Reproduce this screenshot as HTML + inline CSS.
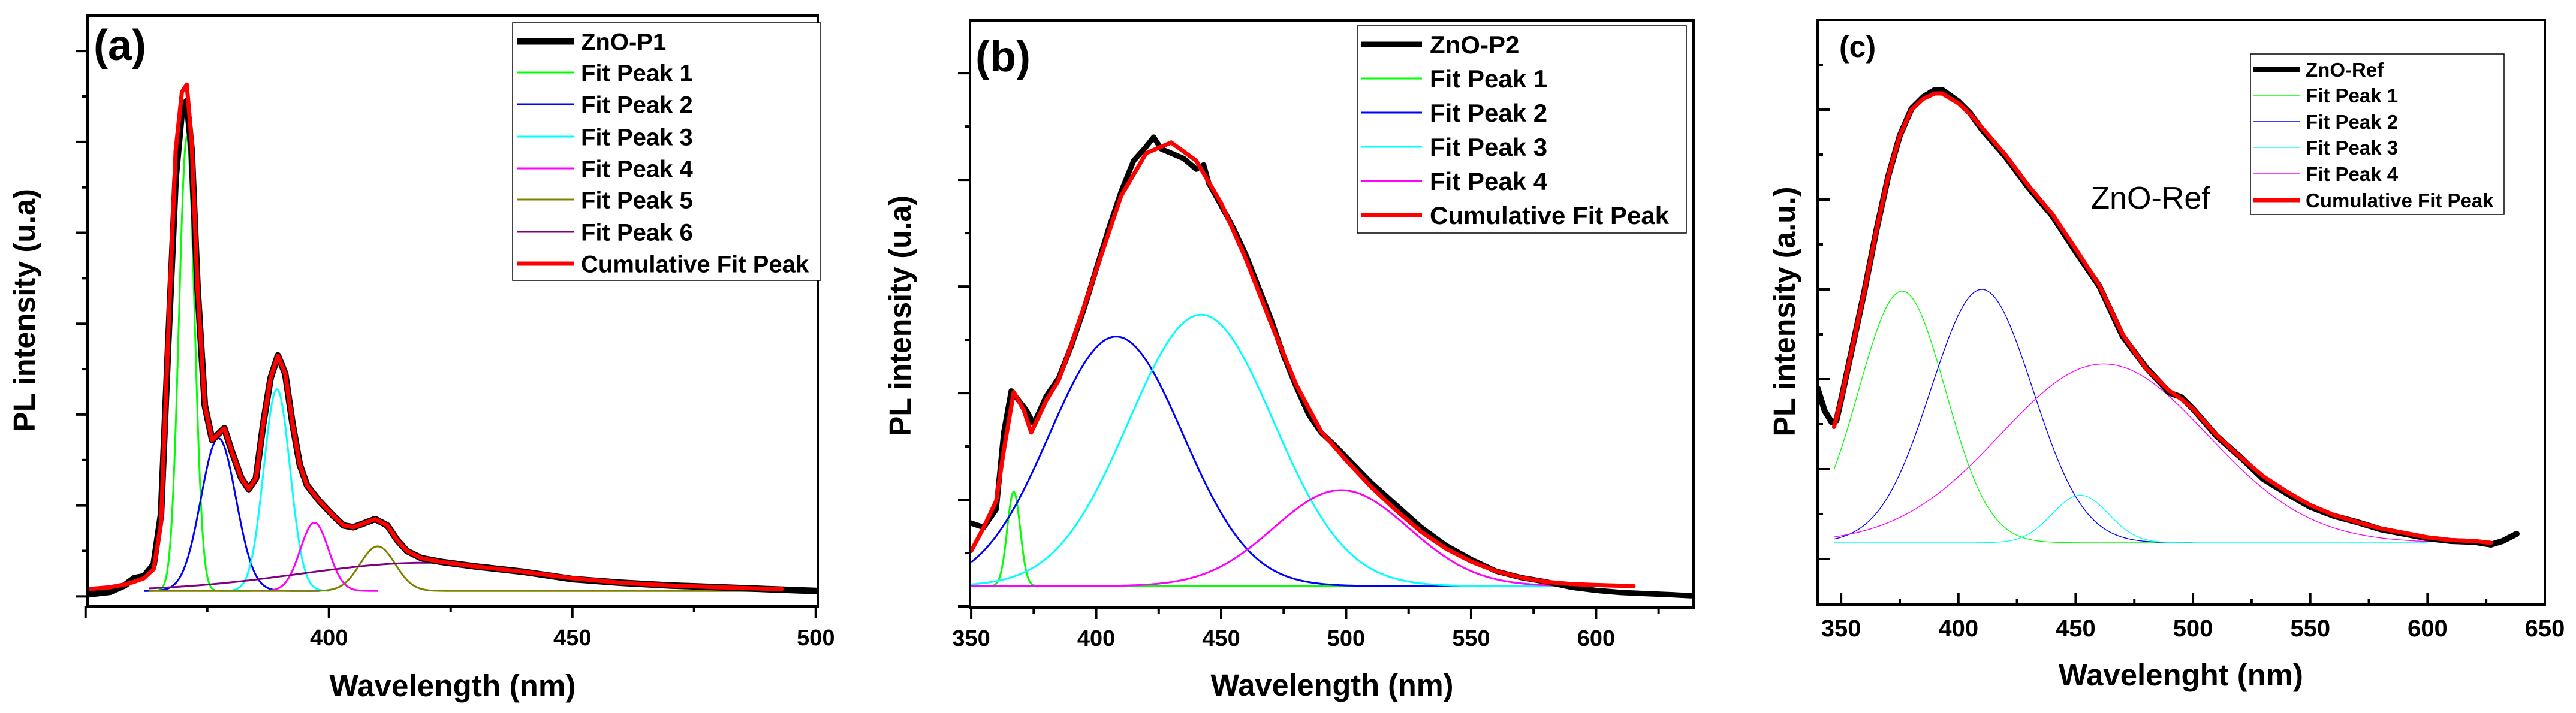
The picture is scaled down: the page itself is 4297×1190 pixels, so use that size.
<!DOCTYPE html>
<html><head><meta charset="utf-8"><style>
html,body{margin:0;padding:0;background:#fff;}
svg{display:block;font-family:"Liberation Sans",Arial,sans-serif;}
</style></head><body>
<svg id="fig" xmlns="http://www.w3.org/2000/svg" width="4297" height="1190" viewBox="0 0 4297 1190"></svg>
<script>
// ---------- Panel (a) data ----------
const aWl   = [350,355,358,360,362,364,365.5,367,368.5,369.8,370.8,371.8,373,374.5,376,377.5,378.5,380,382,383.5,385,386.5,388,389.5,391,392.5,394,395.5,398,401,403,405,407,409.5,412,414,416,419,423,430,440,450,460,470,480,490,500];
const aData = [0.02,0.05,0.12,0.2,0.22,0.35,0.9,2.8,4.6,5.35,5.45,4.9,3.4,2.1,1.72,1.8,1.85,1.6,1.3,1.18,1.3,1.9,2.4,2.65,2.45,1.9,1.45,1.22,1.05,0.88,0.78,0.76,0.8,0.85,0.78,0.62,0.5,0.42,0.38,0.33,0.27,0.19,0.15,0.12,0.1,0.08,0.06];
const aCumWl = [350.4,355,358,360,362,364,365.5,367,368.5,369.8,370.8,371.8,373,374.5,376,377.5,378.5,380,382,383.5,385,386.5,388,389.5,391,392.5,394,395.5,398,401,403,405,407,409.5,412,414,416,419,423,430,440,450,460,470,480,493];
const aCum  = [0.08,0.1,0.13,0.16,0.2,0.3,0.8,2.9,4.9,5.55,5.63,5.0,3.4,2.1,1.72,1.8,1.85,1.6,1.3,1.18,1.3,1.9,2.4,2.65,2.45,1.9,1.45,1.22,1.05,0.88,0.78,0.76,0.8,0.85,0.78,0.62,0.5,0.42,0.38,0.33,0.27,0.2,0.15,0.12,0.1,0.08];
const aPeakCenter = [370.8,377.3,389.3,397,410,420];
const aPeakHeight = [5.0,1.68,2.22,0.75,0.49,0.31];
const aPeakSigma  = [1.6,3.6,2.7,2.9,3.6,26];
const aPeakFrom   = [362,362,380,386,363,363];
const aPeakTo     = [384,398,400,410,500,425];
const aBase = 0.06;
const aXTicks = [400,450,500];
const aXTickLabels = ["400","450","500"];
const aLegend = ["ZnO-P1","Fit Peak 1","Fit Peak 2","Fit Peak 3","Fit Peak 4","Fit Peak 5","Fit Peak 6","Cumulative Fit Peak"];

// ---------- Panel (b) data ----------
const bWl   = [350,355,360,363,366,369,372,375,380,385,390,395,400,405,410,415,420,423,426,430,435,440,443,445,450,455,460,465,470,475,480,485,490,495,500,510,520,530,540,550,560,570,580,590,600,610,620,630,638];
const bData = [0.78,0.74,0.91,1.63,2.02,1.93,1.84,1.71,1.97,2.14,2.44,2.78,3.16,3.54,3.89,4.18,4.31,4.40,4.29,4.25,4.2,4.1,4.14,3.97,3.76,3.54,3.29,2.99,2.69,2.35,2.06,1.8,1.63,1.52,1.4,1.16,0.95,0.74,0.57,0.44,0.33,0.27,0.23,0.18,0.15,0.13,0.12,0.11,0.1];
const bCumWl = [350,355,360,363,367,371,374,380,385,390,400,410,420,430,440,450,460,470,480,490,500,510,520,530,540,550,560,570,580,590,600,615];
const bCum  = [0.52,0.74,0.99,1.46,2.01,1.84,1.63,1.93,2.12,2.45,3.15,3.85,4.25,4.35,4.18,3.78,3.25,2.65,2.08,1.64,1.37,1.12,0.9,0.7,0.54,0.42,0.33,0.27,0.23,0.21,0.2,0.19];
const bPeakCenter = [367,408,442,498];
const bPeakHeight = [0.885,2.34,2.545,0.9];
const bPeakSigma  = [2.6,26.8,29,27];
const bPeakFrom   = [350,350,350,350];
const bPeakTo     = [615,615,615,615];
const bBase = 0.19;
const bXTicks = [350,400,450,500,550,600];
const bXTickLabels = ["350","400","450","500","550","600"];
const bLegend = ["ZnO-P2","Fit Peak 1","Fit Peak 2","Fit Peak 3","Fit Peak 4","Cumulative Fit Peak"];

// ---------- Panel (c) data ----------
const cWl   = [340,343,346,348,350,355,360,365,370,375,380,385,390,393,400,405,410,420,430,440,450,460,470,480,490,495,500,510,520,530,540,550,560,570,580,590,600,610,620,627,632,638];
const cData = [1.9,1.65,1.52,1.54,1.77,2.38,2.99,3.65,4.25,4.71,5.01,5.14,5.22,5.22,5.09,4.96,4.78,4.48,4.13,3.82,3.42,3.04,2.48,2.13,1.85,1.8,1.67,1.37,1.14,0.89,0.73,0.58,0.48,0.41,0.33,0.28,0.23,0.2,0.19,0.16,0.2,0.28];
const cCumWl = [347,350,355,360,365,370,375,380,385,390,393,400,405,410,420,430,440,450,460,470,480,490,495,500,510,520,530,540,550,560,570,580,590,600,610,620,627];
const cCum  = [1.47,1.77,2.38,2.99,3.65,4.25,4.71,5.0,5.12,5.18,5.18,5.07,4.95,4.8,4.5,4.15,3.84,3.45,3.05,2.5,2.12,1.87,1.78,1.67,1.38,1.14,0.92,0.75,0.6,0.49,0.41,0.34,0.29,0.24,0.21,0.2,0.18];
const cPeakCenter = [376,410,452,462];
const cPeakHeight = [2.8,2.82,0.53,1.99];
const cPeakSigma  = [18.5,21.7,12,44];
const cPeakFrom   = [347,347,347,347];
const cPeakTo     = [500,500,600,627];
const cBase = 0.18;
const cXTicks = [350,400,450,500,550,600,650];
const cXTickLabels = ["350","400","450","500","550","600","650"];
const cLegend = ["ZnO-Ref","Fit Peak 1","Fit Peak 2","Fit Peak 3","Fit Peak 4","Cumulative Fit Peak"];

const NS = "http://www.w3.org/2000/svg";
const svg = document.getElementById('fig');
function mk(tag, attrs, parent){
  const e = document.createElementNS(NS, tag);
  for (const k in attrs) e.setAttribute(k, attrs[k]);
  (parent||svg).appendChild(e);
  return e;
}
function gauss(x,c,h,s){ return h*Math.exp(-0.5*((x-c)/s)*((x-c)/s)); }

function panel(P){
  const g = mk('g',{});
  
  
  const sx = w => P.x0 + (w - P.xmin)/(P.xmax - P.xmin)*(P.x1 - P.x0);
  const sy = v => P.y1 - (v - P.vmin)/(P.vmax - P.vmin)*(P.y1 - P.y0);
  const clipId = P.name + '-clip';
  const cp = mk('clipPath',{id:clipId}, g);
  mk('rect',{x:P.x0,y:P.y0,width:P.x1-P.x0,height:P.y1-P.y0}, cp);
  const plot = mk('g',{'clip-path':'url(#'+clipId+')'}, g);

  // fit peaks
  for (let i=0;i<P.pc.length;i++){
    let d='';
    for (let w=P.pf[i]; w<=P.pt[i]+1e-9; w+=0.25){
      d += (d?'L':'M') + sx(w).toFixed(1) + ',' + sy(P.base + gauss(w,P.pc[i],P.ph[i],P.ps[i])).toFixed(1);
    }
    const p = mk('path',{d:d,fill:'none',stroke:P.colors[i],'stroke-width':P.fitW,'stroke-linejoin':'round'}, plot);
    
    
  }
  // data
  let d='';
  P.wl.forEach((w,i)=>{ d += (i?'L':'M') + sx(w).toFixed(1)+','+sy(P.data[i]).toFixed(1); });
  const dp = mk('path',{d:d,fill:'none',stroke:'#000','stroke-width':P.dataW,'stroke-linejoin':'round','stroke-linecap':'round'}, plot);
  
  
  d='';
  P.cwl.forEach((w,i)=>{ d += (i?'L':'M') + sx(w).toFixed(1)+','+sy(P.cum[i]).toFixed(1); });
  const cpth = mk('path',{d:d,fill:'none',stroke:'#ff0000','stroke-width':P.cumW,'stroke-linejoin':'round','stroke-linecap':'round'}, plot);
  
  

  // frame
  const fr = mk('rect',{x:P.x0,y:P.y0,width:P.x1-P.x0,height:P.y1-P.y0,fill:'none',stroke:'#000','stroke-width':4}, g);
  
  

  // x ticks
  const dir = P.inward ? -1 : 1;
  for (let w=P.xt0; w<=P.xmax+0.01; w+=P.xminor){
    const major = Math.abs((w - P.xt0) % P.xmajor) < 0.01;
    const L = major?19:10;
    const t = mk('line',{x1:sx(w),x2:sx(w),y1:P.y1,y2:P.y1+dir*L,stroke:'#000','stroke-width':4}, g);
    
    
  }
  P.xticks.forEach((w,i)=>{
    const t = mk('text',{x:sx(w),y:P.tickBase,'text-anchor':'middle','font-size':P.tickFs,'font-weight':'bold',fill:'#000'}, g);
    t.textContent = P.xlabels[i];
    
    
  });
  // y ticks
  for (let v=P.yt0; v<=P.vmax+0.001; v+=0.5){
    const major = Math.abs(Math.round(v)-v) < 0.01;
    const L = major?20:9;
    const t = mk('line',{x1:P.x0,x2:P.x0-dir*L,y1:sy(v),y2:sy(v),stroke:'#000','stroke-width':4}, g);
    
    
  }
  // titles
  const xt = mk('text',{x:P.xtX,y:P.xtY,'text-anchor':'middle','font-size':51,'font-weight':'bold',fill:'#000',textLength:P.xtLen,lengthAdjust:'spacingAndGlyphs'}, g);
  xt.textContent = P.xtitle;
  
  
  const yt = mk('text',{x:0,y:0,'text-anchor':'middle','font-size':51,'font-weight':'bold',fill:'#000',transform:'translate('+P.ytX+','+P.ytY+') rotate(-90)',textLength:P.ytLen,lengthAdjust:'spacingAndGlyphs'}, g);
  yt.textContent = P.ytitle;
  
  
  const lab = mk('text',{x:P.labX,y:P.labY,'font-size':P.labFs,'font-weight':'bold',fill:'#000'}, g);
  lab.textContent = P.label;
  
  

  // legend
  const L = P.leg;
  const lg = mk('g',{}, g);
  
  
  mk('rect',{x:L.x,y:L.y,width:L.w,height:L.h,fill:'#fff',stroke:'#000','stroke-width':1.5}, lg);
  const legColors = ['#000'].concat(P.colors, ['#ff0000']);
  const legW = [P.dataW].concat(P.colors.map(()=>P.legFitW), [P.cumW]);
  P.legend.forEach((txt,i)=>{
    const yy = L.ys[i];
    const ln = mk('line',{x1:L.lx0,x2:L.lx1,y1:yy,y2:yy,stroke:legColors[i],'stroke-width':legW[i]}, lg);
    
    
    const t = mk('text',{x:L.tx,y:yy+L.fs*0.36,'font-size':L.fs,'font-weight':'bold',fill:'#000'}, lg);
    t.textContent = txt;
    
    
  });
  return {sx,sy,g};
}

panel({name:'panel-a', x0:146,x1:1364,y0:26,y1:1012, xmin:350.4,xmax:500.4, vmin:-0.11,vmax:6.39,
  wl:aWl,data:aData,cwl:aCumWl,cum:aCum,pc:aPeakCenter,ph:aPeakHeight,ps:aPeakSigma,pf:aPeakFrom,pt:aPeakTo,base:aBase,
  colors:['#00ff00','#0000ff','#00ffff','#ff00ff','#808000','#800080'], fitW:3, dataW:11, cumW:7, legFitW:3,
  inward:false, xt0:350, xmajor:50, xminor:25, yt0:0, xticks:aXTicks, xlabels:aXTickLabels, tickBase:1077, tickFs:38,
  xtitle:'Wavelength (nm)', xtX:755, xtY:1162, xtLen:411, ytitle:'PL intensity (u.a)', ytX:58, ytY:518, ytLen:406,
  label:'(a)', labX:156, labY:100, labFs:72,
  legend:aLegend, leg:{x:855,y:38,w:514,h:430,lx0:862,lx1:957,tx:969,fs:40,ys:[69,121,174,228,281,333,387,440]}});

panel({name:'panel-b', x0:1618,x1:2825,y0:34,y1:1014, xmin:349.5,xmax:639, vmin:-0.011,vmax:5.495,
  wl:bWl,data:bData,cwl:bCumWl,cum:bCum,pc:bPeakCenter,ph:bPeakHeight,ps:bPeakSigma,pf:bPeakFrom,pt:bPeakTo,base:bBase,
  colors:['#00ff00','#0000ff','#00ffff','#ff00ff'], fitW:3, dataW:9, cumW:7, legFitW:3,
  inward:false, xt0:350, xmajor:50, xminor:25, yt0:0, xticks:bXTicks, xlabels:bXTickLabels, tickBase:1078, tickFs:38,
  xtitle:'Wavelength (nm)', xtX:2222, xtY:1161, xtLen:405, ytitle:'PL intensity (u.a)', ytX:1519, ytY:527, ytLen:402,
  label:'(b)', labX:1627, labY:119, labFs:72,
  legend:bLegend, leg:{x:2264,y:43,w:549,h:346,lx0:2270,lx1:2372,tx:2385,fs:42,ys:[74,131,188,245,302,359]}});

panel({name:'panel-c', x0:3032,x1:4245,y0:33,y1:1009, xmin:340,xmax:650, vmin:-0.507,vmax:6.0,
  wl:cWl,data:cData,cwl:cCumWl,cum:cCum,pc:cPeakCenter,ph:cPeakHeight,ps:cPeakSigma,pf:cPeakFrom,pt:cPeakTo,base:cBase,
  colors:['#00ff00','#0000ff','#00ffff','#ff00ff'], fitW:1.4, dataW:10, cumW:7, legFitW:1.5,
  inward:true, xt0:350, xmajor:50, xminor:25, yt0:0, xticks:cXTicks, xlabels:cXTickLabels, tickBase:1062, tickFs:40,
  xtitle:'Wavelenght (nm)', xtX:3638, xtY:1144, xtLen:408, ytitle:'PL intensity (a.u.)', ytX:2994, ytY:520, ytLen:417,
  label:'(c)', labX:3068, labY:95, labFs:50,
  legend:cLegend, leg:{x:3754,y:90,w:423,h:268,lx0:3758,lx1:3836,tx:3846,fs:33,ys:[116,159,203,246,290,334]}});

const ann = mk('text',{x:3587,y:348,'text-anchor':'middle','font-size':52,fill:'#000'});
ann.textContent = 'ZnO-Ref';


</script>
</body></html>
